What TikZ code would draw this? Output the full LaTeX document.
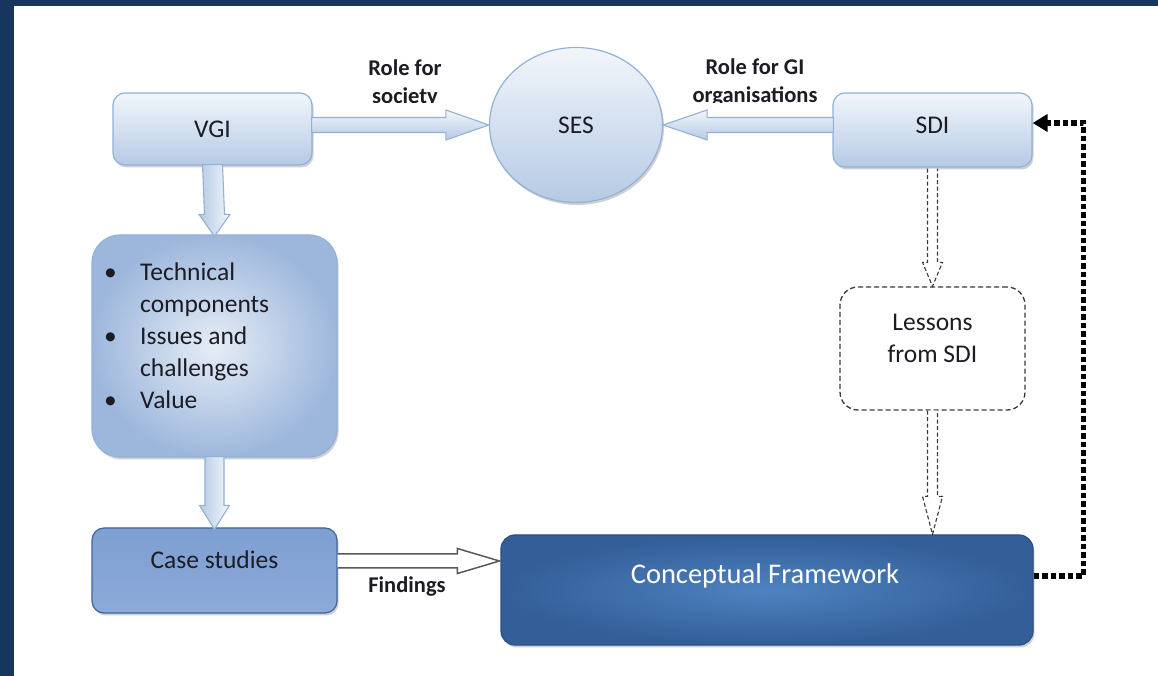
\documentclass[tikz,border=0pt]{standalone}
\usepackage{fontspec}
\setmainfont{Carlito}
\usetikzlibrary{calc,shapes.geometric,arrows.meta,shadows}

\definecolor{navy}{HTML}{17365D}
\definecolor{lbBorder}{HTML}{93B0D6}
\definecolor{lbTop}{HTML}{F2F6FB}
\definecolor{lbBot}{HTML}{B5CAE5}
\definecolor{txt}{HTML}{1C1C24}
\definecolor{csTop}{HTML}{7E9FD2}
\definecolor{csMid}{HTML}{4677B7}
\definecolor{csBot}{HTML}{8CA9D8}
\definecolor{csBorder}{HTML}{3C66A0}
\definecolor{cfIn}{HTML}{4E83C1}
\definecolor{cfOut}{HTML}{335E98}
\definecolor{dgray}{HTML}{3A3A3A}
\definecolor{bulDark}{HTML}{9DB7DC}
\definecolor{bulLight}{HTML}{E6EDF6}

\tikzset{
  basefont/.style={font=\fontsize{25.5}{32}\selectfont, text=txt},
  labelfont/.style={font=\bfseries\fontsize{22.5}{28}\selectfont, text=txt, align=center},
  softshadow/.style={drop shadow={shadow xshift=1.5pt, shadow yshift=-2.5pt, opacity=0.3, fill=black!60}},
  lightbox/.style={draw=lbBorder, line width=1.2pt, rounded corners=12pt,
    top color=lbTop, bottom color=lbBot, softshadow, basefont},
  sesbox/.style={ellipse, draw=lbBorder, line width=1.2pt, top color=lbTop, bottom color=lbBot,
    softshadow, basefont, inner sep=0pt},
  bulbox/.style={draw=lbBorder, line width=1.2pt, rounded corners=28pt, softshadow,
    shading=radial, inner color=bulLight, outer color=bulDark},
  casebox/.style={draw=csBorder, line width=1.2pt, rounded corners=12pt, softshadow,
    top color=csTop, middle color=csMid, bottom color=csBot},
  cfbox/.style={draw=cfOut!85!black, line width=1.2pt, rounded corners=14pt, softshadow,
    shading=radial, inner color=cfIn, outer color=cfOut},
  lessbox/.style={draw=dgray, line width=1.3pt, dash pattern=on 5pt off 3pt, rounded corners=18pt, fill=white},
  blockarrow/.style={draw=lbBorder, line width=1.1pt, top color=lbTop, bottom color=lbBot, line join=miter},
  vblockarrow/.style={draw=lbBorder, line width=1.1pt, left color=lbBot, right color=lbTop, line join=miter},
  whitearrow/.style={draw=black!65, line width=1.5pt, fill=white, line join=miter},
  dasharrow/.style={draw=dgray, line width=1.1pt, dash pattern=on 4pt off 2.5pt, fill=white},
  feedback/.style={line width=5.5pt, draw=black, dash pattern=on 5.5pt off 3pt, line join=miter,
    -{Triangle[length=15pt,width=17pt]}}
}

\begin{document}
\begin{tikzpicture}[x=1pt,y=1pt]
\useasboundingbox (0,0) rectangle (1158,676);
\fill[white] (0,0) rectangle (1158,676);
\fill[navy] (0,0) rectangle (14,676);
\fill[navy] (0,670) rectangle (1158,676);

% nodes
\node[lightbox, minimum width=199pt, minimum height=72pt] (vgi) at (212.5,547) {VGI};
\node[sesbox, minimum width=173pt, minimum height=155pt] (ses) at (576,551) {SES};
\node[lightbox, minimum width=199pt, minimum height=74pt] (sdi) at (932.5,546) {};
\node[basefont] (sditext) at (932.5,551) {SDI};
\node[bulbox, minimum width=245pt, minimum height=222pt] (bul) at (214.5,330) {};
\node[basefont, anchor=west, inner sep=0pt] (bultext) at (104,338) {%
  \begin{tabular}{@{}p{36pt}@{}l@{}}
  \textbullet & Technical\\
   & components\\
  \textbullet & Issues and\\
   & challenges\\
  \textbullet & Value
  \end{tabular}};
\node[casebox, minimum width=245pt, minimum height=85pt] (cs) at (214.5,105.5) {};
\node[basefont] (cstext) at (214.5,116) {Case studies};
\node[cfbox, minimum width=532pt, minimum height=110pt] (cf) at (767,86) {};
\node[font=\fontsize{28.5}{34}\selectfont, text=white] (cftext) at (765,100) {Conceptual Framework};
\node[lessbox, minimum width=185pt, minimum height=123pt] (les) at (932.5,327.5) {};
\node[basefont, align=center] (lestext) at (932.5,338) {Lessons\\from SDI};

% labels (descenders of the second line are cut off, as in the picture)
\begin{scope}
\clip (300,573.5) rectangle (860,650);
\node[labelfont] (lsoc) at (405,593) {Role for\\society};
\node[labelfont] (lgi) at (755,593) {Role for GI\\organisations};
\end{scope}
\node[labelfont] (lfind) at (407,89) {Findings};

% block arrows
\path[blockarrow] ($(vgi.east |- ses.center)+(-1,7.5)$) -- ($(ses.west)+(-43,7.5)$) -- ($(ses.west)+(-43,15)$)
  -- (ses.west) -- ($(ses.west)+(-43,-15)$) -- ($(ses.west)+(-43,-7.5)$) -- ($(vgi.east |- ses.center)+(-1,-7.5)$) -- cycle;
\path[blockarrow] ($(sdi.west |- ses.center)+(1,7.5)$) -- ($(ses.east)+(44,7.5)$) -- ($(ses.east)+(44,15)$)
  -- (ses.east) -- ($(ses.east)+(44,-15)$) -- ($(ses.east)+(44,-7.5)$) -- ($(sdi.west |- ses.center)+(1,-7.5)$) -- cycle;
\path[vblockarrow] ($(vgi.south)+(-10,1)$) -- ($(bul.north)+(-10,20)$) -- ($(bul.north)+(-15.5,20)$)
  -- ($(bul.north)+(0,-2)$) -- ($(bul.north)+(15.5,20)$) -- ($(bul.north)+(10,20)$) -- ($(vgi.south)+(10,1)$) -- cycle;
\path[vblockarrow] ($(bul.south)+(-9.5,1)$) -- ($(cs.north)+(-9.5,22)$) -- ($(cs.north)+(-15,22)$)
  -- ($(cs.north)+(0,-2)$) -- ($(cs.north)+(15,22)$) -- ($(cs.north)+(9.5,22)$) -- ($(bul.south)+(9.5,1)$) -- cycle;

% findings arrow
\coordinate (ftip) at ($(cf.west)+(-1,29)$);
\path[whitearrow] ($(cs.east |- ftip)+(0,7)$) -- ($(ftip)+(-42,7)$) -- ($(ftip)+(-42,12.5)$) -- (ftip)
  -- ($(ftip)+(-42,-12.5)$) -- ($(ftip)+(-42,-7)$) -- ($(cs.east |- ftip)+(0,-7)$);

% dashed hollow arrows
\path[dasharrow] ($(sdi.south)+(-5,-1)$) -- ($(les.north)+(-5,24)$) -- ($(les.north)+(-10,24)$) -- (les.north)
  -- ($(les.north)+(10,24)$) -- ($(les.north)+(5,24)$) -- ($(sdi.south)+(5,-1)$);
\path[dasharrow] ($(les.south)+(-5,0)$) -- ($(les.south |- cf.north)+(-5,38)$) -- ($(les.south |- cf.north)+(-10,38)$)
  -- (les.south |- cf.north) -- ($(les.south |- cf.north)+(10,38)$) -- ($(les.south |- cf.north)+(5,38)$) -- ($(les.south)+(5,0)$);

% feedback dotted arrow
\coordinate (fbstart) at ($(cf.east)+(0,14)$);
\coordinate (fbend) at ($(sdi.east)+(0,7)$);
\draw[feedback] (fbstart) -- ($(fbstart)+(50,0)$) |- (fbend);
\end{tikzpicture}
\end{document}
